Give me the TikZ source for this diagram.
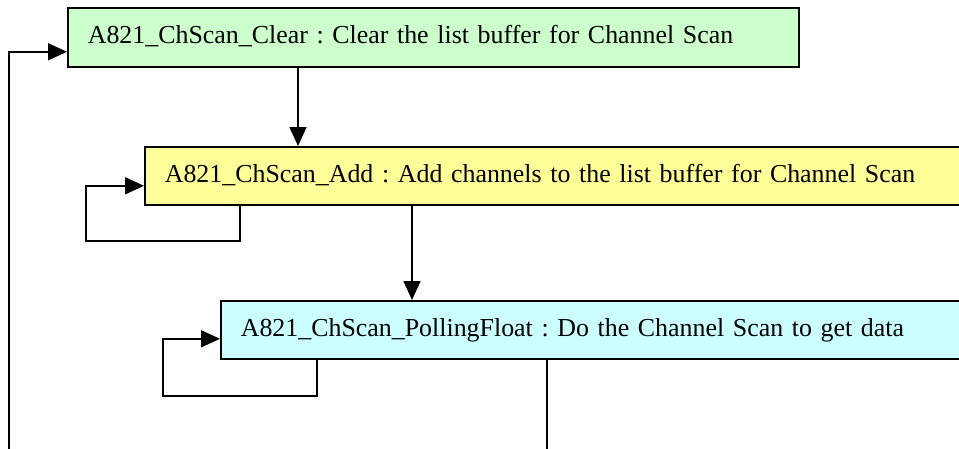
\documentclass[tikz,border=0pt]{standalone}
\usepackage{fontspec}
\setmainfont{Liberation Serif}
\usetikzlibrary{arrows.meta}
\definecolor{boxgreen}{HTML}{CCFFCC}
\definecolor{boxyellow}{HTML}{FFFF99}
\definecolor{boxcyan}{HTML}{CCFFFF}
\tikzset{
  stepbox/.style={draw=black, line width=1.6pt, anchor=north west,
    inner xsep=20pt, inner ysep=0pt, align=left,
    text height=18pt, text depth=5pt,
    font=\fontsize{25.9}{31}\selectfont\frenchspacing},
  conn/.style={draw=black, line width=1.6pt},
  arr/.style={conn, -{Triangle[length=19pt,width=17pt]}},
}
\begin{document}
\begin{tikzpicture}[x=1pt,y=-1pt]
\useasboundingbox (0,0) rectangle (959,448);
\clip (0,0) rectangle (959,448);
\fill[white] (0,0) rectangle (959,448);

\node[stepbox, fill=boxgreen, minimum height=59pt, text width=691pt] (clear) at (67,7)
  {A821\_ChScan\_Clear : Clear the list buffer for Channel Scan};
\node[stepbox, fill=boxyellow, minimum height=58pt, text width=860pt] (add) at (144,146)
  {A821\_ChScan\_Add : Add channels to the list buffer for Channel Scan};
\node[stepbox, fill=boxcyan, minimum height=58pt, text width=780pt] (poll) at (220,300)
  {A821\_ChScan\_PollingFloat : Do the Channel Scan to get data};

\coordinate (leftend) at (9,470);
\coordinate (bottomend) at (547,470);

\draw[arr] ([xshift=231pt]clear.south west) -- ([xshift=154pt]add.north west);
\draw[arr] ([xshift=268pt]add.south west) -- ([xshift=192pt]poll.north west);

\draw[arr] ([xshift=96pt]add.south west) |- (86,241) |- ([yshift=-10pt]add.west);
\draw[arr] ([xshift=97pt]poll.south west) |- (163,396) |- ([yshift=-9pt]poll.west);

\draw[arr] (leftend) |- ([yshift=-14.5pt]clear.west);
\draw[conn] ([xshift=327pt]poll.south west) -- (bottomend);
\end{tikzpicture}
\end{document}
